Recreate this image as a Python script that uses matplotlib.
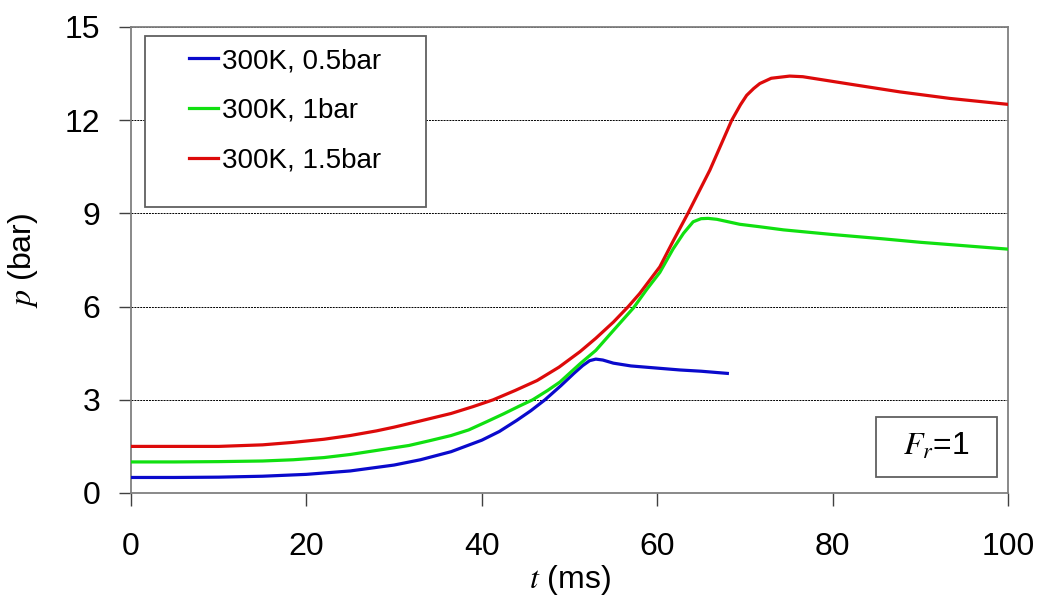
import matplotlib
matplotlib.use("Agg")
import matplotlib.pyplot as plt
from matplotlib.patches import Rectangle

plt.rcParams['font.family'] = ['Liberation Sans Narrow', 'Liberation Sans', 'DejaVu Sans']
plt.rcParams['mathtext.fontset'] = 'stix'

# ---- data ----
t_05 = [0, 5, 10, 15, 20, 25, 30, 33, 36.5, 40, 42, 44, 45.6, 47.2, 49, 50.5, 51.5, 52.3, 53.0, 53.8,
        55, 57, 60, 62.6, 65, 68]
p_05 = [0.5, 0.5, 0.51, 0.54, 0.6, 0.71, 0.9, 1.07, 1.33, 1.70, 1.98, 2.34, 2.65, 3.0, 3.45, 3.85,
        4.10, 4.26, 4.31, 4.28, 4.18, 4.09, 4.02, 3.96, 3.92, 3.85]

t_10 = [0, 5, 10, 15, 18.5, 22, 25, 28, 31.7, 34, 36.5, 38.5, 40.6, 42.5, 44.3, 45.8, 47.5, 48.9,
        51.2, 53, 55, 57.3, 58.8, 60.3, 61.8, 63.0, 64.1, 65.0, 65.8, 66.8, 69.4, 71.7, 74.4, 80,
        85.8, 90, 95, 100]
p_10 = [1.0, 1.0, 1.01, 1.03, 1.07, 1.14, 1.24, 1.37, 1.53, 1.68, 1.85, 2.03, 2.30, 2.55, 2.80,
        3.0, 3.3, 3.57, 4.16, 4.59, 5.23, 5.96, 6.55, 7.1, 7.85, 8.36, 8.73, 8.83, 8.84, 8.81, 8.65,
        8.57, 8.47, 8.32, 8.18, 8.07, 7.96, 7.85]

t_15 = [0, 10, 15, 18.5, 22, 25, 28, 30, 33, 36.5, 39, 41.3, 43.8, 46.3, 48.8, 51.2, 53, 55,
        56.7, 58, 60.3, 61.8, 63.5, 66.0, 68.5, 69.5, 70.2, 71.0, 71.7, 73, 75.1, 76.6, 82, 87.7,
        93.4, 100]
p_15 = [1.5, 1.5, 1.55, 1.63, 1.73, 1.85, 2.0, 2.12, 2.32, 2.56, 2.78, 3.0, 3.3, 3.62, 4.05, 4.55,
        4.98, 5.5, 6.0, 6.42, 7.28, 8.1, 9.0, 10.39, 12.0, 12.5, 12.8, 13.02, 13.18, 13.35,
        13.42, 13.40, 13.16, 12.91, 12.70, 12.51]

labels = ['300K, 0.5bar', '300K, 1bar', '300K, 1.5bar']
x_ticks = [0, 20, 40, 60, 80, 100]
y_ticks = [0, 3, 6, 9, 12, 15]

fig = plt.figure(figsize=(10.37, 6.08), dpi=100)
ax = fig.add_axes([131/1037, 1 - 493/608, 877/1037, 466/608])

ax.plot(t_05, p_05, color='#0A0ACC', lw=2.3, label=labels[0], zorder=3, solid_joinstyle='round')
ax.plot(t_10, p_10, color='#10E010', lw=2.3, label=labels[1], zorder=3, solid_joinstyle='round')
ax.plot(t_15, p_15, color='#DD0A0A', lw=2.3, label=labels[2], zorder=3, solid_joinstyle='round')

ax.set_xlim(0, 100)
ax.set_ylim(0, 15)
ax.set_xticks(x_ticks)
ax.set_yticks(y_ticks)
ax.tick_params(axis='both', direction='out', length=9, width=1.0, color='#404040',
               labelsize=23, labelcolor='black')
ax.tick_params(axis='y', pad=13)
ax.tick_params(axis='x', pad=19)
for s in ax.spines.values():
    s.set_color('#808080')
    s.set_linewidth(1.3)

ax.yaxis.grid(True, color='black', linestyle=(0, (2, 1)), linewidth=0.7)
ax.set_axisbelow(True)

ax.set_xlabel(r'$t$ (ms)', fontsize=23, labelpad=1)
ax.set_ylabel(r'$p$ (bar)', fontsize=23, labelpad=18)

# legend frame drawn as a rectangle, legend itself frameless
ax.add_patch(Rectangle((14/877, (493-207)/466), (426-145)/877, (207-36)/466,
                       transform=ax.transAxes, facecolor='white', edgecolor='#606060',
                       lw=1.3, zorder=4))
leg = ax.legend(loc='upper left', bbox_to_anchor=((189-131)/877, (493-48)/466),
                frameon=False, fontsize=20, handlelength=1.05, handletextpad=0.12,
                labelspacing=0.85, borderpad=0, borderaxespad=0)
leg.set_zorder(5)

# F_r box
ax.add_patch(Rectangle(((876-131)/877, (493-477)/466), (997-876)/877, (477-417)/466,
                       transform=ax.transAxes, facecolor='white', edgecolor='#606060',
                       lw=1.3, zorder=4))
ax.text((936-131)/877, (493-447)/466, r'$F_r$=1', transform=ax.transAxes,
        fontsize=23, ha='center', va='center', zorder=5)

fig.savefig('out.png', dpi=100)
